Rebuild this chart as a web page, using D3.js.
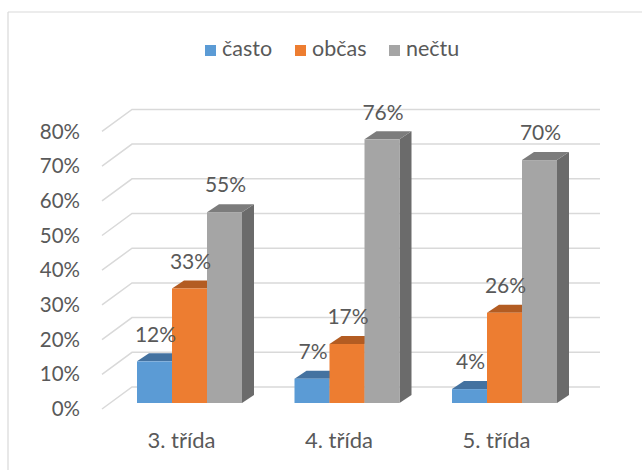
<!DOCTYPE html>
<html>
<head>
<meta charset="utf-8">
<script src="https://cdn.jsdelivr.net/npm/d3@7"></script>
<style>
  html, body { margin: 0; padding: 0; background: #fff; }
  svg { display: block; }
  text { font-family: Lato, "Open Sans", sans-serif; fill: #595959; }
</style>
</head>
<body>
<svg id="chart" width="642" height="470"></svg>
<script>
const categories = ["3. třída", "4. třída", "5. třída"];
const seriesNames = ["často", "občas", "nečtu"];
const casto = [0.12, 0.07, 0.04];
const obcas = [0.33, 0.17, 0.26];
const nectu = [0.55, 0.76, 0.70];
const tickValues = [0, 0.1, 0.2, 0.3, 0.4, 0.5, 0.6, 0.7, 0.8];

const seriesValues = [casto, obcas, nectu];
const colors = {
  "často": { front: "#5B9BD5", top: "#4472A0", side: "#3E6A94" },
  "občas": { front: "#ED7D31", top: "#B35C22", side: "#A8561F" },
  "nečtu": { front: "#A5A5A5", top: "#7C7C7C", side: "#6B6B6B" }
};

const svg = d3.select("#chart");

// frame
svg.append("line").attr("x1", 8).attr("y1", 12).attr("x2", 642).attr("y2", 12)
  .attr("stroke", "#D9D9D9").attr("stroke-width", 1.2);
svg.append("line").attr("x1", 8).attr("y1", 12).attr("x2", 8).attr("y2", 470)
  .attr("stroke", "#D9D9D9").attr("stroke-width", 1.2);

// scales
const x = d3.scaleBand().domain(categories).range([110.75, 583.25])
  .paddingInner(1 / 3).paddingOuter(1 / 6);
const xs = d3.scaleBand().domain(seriesNames).range([0, x.bandwidth()]).padding(0);
const y = d3.scaleLinear().domain([0, 0.8]).range([403, 125.4]);

// 3D offsets
const wallDX = 30, wallDY = -22;
const frontOff = 6;
const backOff = -16;
const barDX = 12, barDY = -8;
const wallLeftBack = 132, wallRight = 600;

// gridlines
const grid = svg.append("g");
tickValues.forEach(t => {
  const yb = y(t) + backOff;
  grid.append("path")
    .attr("d", `M${wallLeftBack - wallDX},${yb - wallDY} L${wallLeftBack},${yb} L${wallRight},${yb}`)
    .attr("fill", "none").attr("stroke", "#D9D9D9").attr("stroke-width", 1.5);
});

// y labels
svg.append("g").selectAll("text").data(tickValues).join("text")
  .attr("x", 80).attr("y", d => y(d) + frontOff + 2)
  .attr("text-anchor", "end").attr("dominant-baseline", "middle")
  .attr("font-size", 20.5).text(d3.format(".0%"));

// bars
const barsG = svg.append("g");
categories.forEach((cat, ci) => {
  seriesNames.forEach((s, si) => {
    const v = seriesValues[si][ci];
    const x0 = x(cat) + xs(s), w = xs.bandwidth();
    const yt = y(v), yb = y(0);
    const c = colors[s];
    const g = barsG.append("g");
    g.append("path")
      .attr("d", `M${x0 + w},${yt} L${x0 + w + barDX},${yt + barDY} L${x0 + w + barDX},${yb + barDY} L${x0 + w},${yb} Z`)
      .attr("fill", c.side);
    g.append("path")
      .attr("d", `M${x0},${yt} L${x0 + barDX},${yt + barDY} L${x0 + w + barDX},${yt + barDY} L${x0 + w},${yt} Z`)
      .attr("fill", c.top);
    g.append("rect").attr("x", x0).attr("y", yt).attr("width", w).attr("height", yb - yt)
      .attr("fill", c.front);
  });
});

// data labels
const lbl = svg.append("g");
categories.forEach((cat, ci) => {
  seriesNames.forEach((s, si) => {
    const v = seriesValues[si][ci];
    lbl.append("text")
      .attr("x", x(cat) + xs(s) + xs.bandwidth() / 2 + 1)
      .attr("y", y(v) - 25)
      .attr("text-anchor", "middle").attr("dominant-baseline", "middle")
      .attr("font-size", 21)
      .text(d3.format(".0%")(v));
  });
});

// category labels
svg.append("g").selectAll("text").data(categories).join("text")
  .attr("x", d => x(d) + x.bandwidth() / 2 - 8)
  .attr("y", 442)
  .attr("text-anchor", "middle").attr("dominant-baseline", "middle")
  .attr("font-size", 22).text(d => d);

// legend
const legendX = [205, 295, 389];
const legend = svg.append("g");
seriesNames.forEach((s, i) => {
  legend.append("rect").attr("x", legendX[i]).attr("y", 45).attr("width", 11).attr("height", 11)
    .attr("fill", colors[s].front);
  legend.append("text").attr("x", legendX[i] + 17).attr("y", 51)
    .attr("dominant-baseline", "middle").attr("font-size", 21.5).text(s);
});
</script>
</body>
</html>
